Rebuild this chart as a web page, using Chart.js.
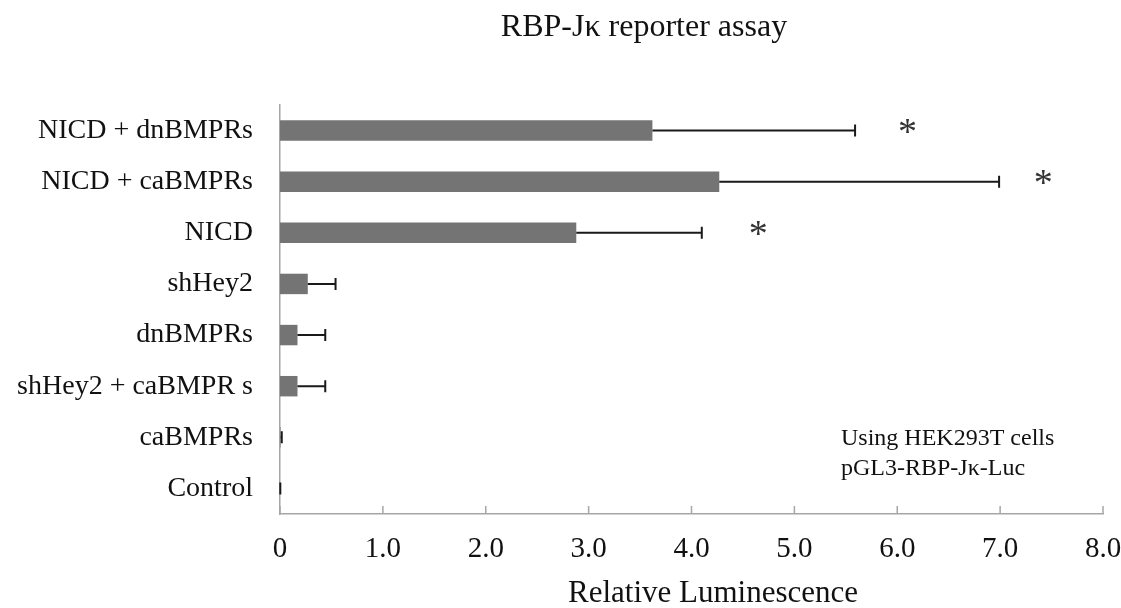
<!DOCTYPE html>
<html lang="en">
<head>
    <meta charset="UTF-8">
    <title>RBP-Jκ reporter assay</title>
    <script src="https://cdn.jsdelivr.net/npm/chart.js@4"></script>
    <style>
        body { margin: 0; background: #fff; }
    </style>
</head>
<body>
    <canvas id="grafico" width="1121" height="608"></canvas>
<script>
    // dados
    const categorias = ['NICD + dnBMPRs', 'NICD + caBMPRs', 'NICD', 'shHey2', 'dnBMPRs', 'shHey2 + caBMPR s', 'caBMPRs', 'Control'];
    const medias = [3.62, 4.27, 2.88, 0.27, 0.17, 0.17, 0.005, 0];
    const erros = [1.97, 2.72, 1.22, 0.27, 0.27, 0.27, 0.012, 0.003];
    const marcas = ['*', '*', '*', '', '', '', '', ''];
    const marcaX = [6.1, 7.42, 4.65, 0, 0, 0, 0, 0];
    const ticksX = [0, 1, 2, 3, 4, 5, 6, 7, 8];

    const fonte = '"Liberation Serif", "Times New Roman", serif';

    // barras de erro, asteriscos, ticks internos e textos
    const extras = {
        id: 'extras',
        afterDatasetsDraw(chart) {
            const ctx = chart.ctx;
            const x = chart.scales.x;
            const y = chart.scales.y;
            ctx.save();

            // barras de erro
            ctx.strokeStyle = '#1a1a1a';
            ctx.lineWidth = 2;
            medias.forEach((m, i) => {
                const yc = y.getPixelForValue(i);
                const x0 = x.getPixelForValue(m);
                const x1 = x.getPixelForValue(m + erros[i]);
                ctx.beginPath();
                ctx.moveTo(x0, yc);
                ctx.lineTo(x1, yc);
                ctx.moveTo(x1, yc - 6);
                ctx.lineTo(x1, yc + 6);
                ctx.stroke();
            });

            // asteriscos
            ctx.fillStyle = '#333';
            ctx.font = '38px ' + fonte;
            ctx.textAlign = 'center';
            ctx.textBaseline = 'alphabetic';
            marcas.forEach((s, i) => {
                if (!s) return;
                const mt = ctx.measureText(s);
                const meio = (mt.actualBoundingBoxAscent - mt.actualBoundingBoxDescent) / 2;
                ctx.fillText(s, x.getPixelForValue(marcaX[i]), y.getPixelForValue(i) - 4 + meio);
            });

            // ticks para dentro no eixo x
            ctx.strokeStyle = '#a6a6a6';
            ctx.lineWidth = 1.5;
            ticksX.forEach(t => {
                const px = x.getPixelForValue(t);
                ctx.beginPath();
                ctx.moveTo(px, x.top);
                ctx.lineTo(px, x.top - 8);
                ctx.stroke();
            });

            // titulo
            ctx.fillStyle = '#111';
            ctx.font = '32px ' + fonte;
            ctx.textAlign = 'center';
            ctx.textBaseline = 'middle';
            ctx.fillText('RBP-Jκ reporter assay', 644, 28);

            // titulo do eixo x
            ctx.font = '31px ' + fonte;
            ctx.fillText('Relative Luminescence', 713, 594);

            // nota
            ctx.font = '24px ' + fonte;
            ctx.textAlign = 'left';
            ctx.textBaseline = 'alphabetic';
            ctx.fillText('Using HEK293T cells', 841, 445);
            ctx.fillText('pGL3-RBP-Jκ-Luc', 841, 475);

            ctx.restore();
        }
    };

    const config = {
        type: 'bar',
        data: {
            labels: categorias,
            datasets: [{
                data: medias,
                backgroundColor: '#747474',
                borderWidth: 0,
                categoryPercentage: 1,
                barPercentage: 0.4
            }]
        },
        options: {
            indexAxis: 'y',
            responsive: false,
            animation: false,
            layout: { padding: { top: 105, right: 0, left: 0, bottom: 0 } },
            plugins: {
                legend: { display: false },
                tooltip: { enabled: false }
            },
            scales: {
                x: {
                    min: 0,
                    max: 8,
                    afterFit: s => { s.height = 94; s.paddingRight = 18; s.paddingLeft = 0; },
                    afterBuildTicks: s => { s.ticks = ticksX.map(v => ({ value: v })); },
                    grid: { display: false, drawTicks: false },
                    border: { color: '#a6a6a6', width: 1.5 },
                    ticks: {
                        color: '#111',
                        padding: 18,
                        maxRotation: 0,
                        font: { family: fonte, size: 29 },
                        callback: v => v === 0 ? '0' : v.toFixed(1)
                    }
                },
                y: {
                    afterFit: s => { s.width = 280; },
                    grid: { display: false, drawTicks: false },
                    border: { color: '#a6a6a6', width: 1.5 },
                    ticks: {
                        color: '#111',
                        padding: 27,
                        font: { family: fonte, size: 28 }
                    }
                }
            }
        },
        plugins: [extras]
    };

    new Chart(document.getElementById('grafico').getContext('2d'), config);
</script>
</body>
</html>
